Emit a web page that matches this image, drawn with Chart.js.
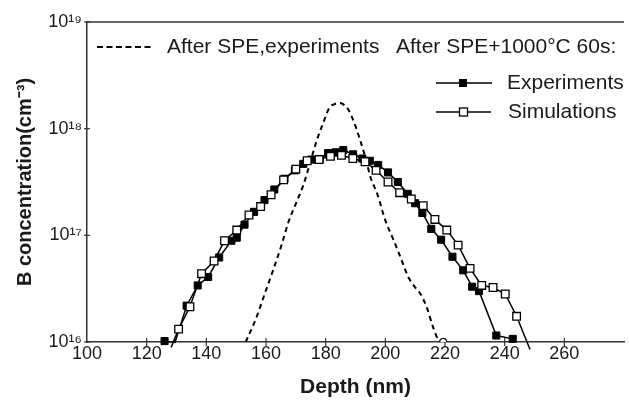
<!DOCTYPE html>
<html>
<head>
<meta charset="utf-8">
<script src="https://cdn.jsdelivr.net/npm/chart.js@4.4.1/dist/chart.umd.min.js"></script>
<style>
  html, body { margin: 0; padding: 0; background: #fff; }
  #wrap { width: 630px; height: 405px; }
</style>
</head>
<body>
<div id="wrap"><canvas id="c" width="630" height="405"></canvas></div>
<script>
// ---- Data ----
const xTickValues = [100, 120, 140, 160, 180, 200, 220, 240, 260];
const yTickValues = [1e16, 1e17, 1e18, 1e19];
const yTickLabels = ['10\u00B9\u2076', '10\u00B9\u2077', '10\u00B9\u2078', '10\u00B9\u2079'];

const xTitle = 'Depth (nm)';
const yTitle = 'B concentration(cm\u207B\u00B3)';

const labelSPE = 'After SPE,experiments';
const legendHeader = 'After SPE+1000\u00B0C 60s:';
const labelExp = 'Experiments';
const labelSim = 'Simulations';

// After SPE, experiments (dashed)
const speDepth = [153.2,156.5,159.8,162.6,165.1,167.6,170.2,172.5,174.7,176.9,179.1,181.3,183,184.8,186.3,187.6,189.5,191.7,193.4,195.2,197.3,200,202.7,205,207.7,209.8,211.6,213.8,216,217.6,219.4];
const speConc  = [1.0e16,1.62e16,2.95e16,4.9e16,7.94e16,1.35e17,2.04e17,2.95e17,4.68e17,7.59e17,1.12e18,1.58e18,1.70e18,1.74e18,1.66e18,1.51e18,1.15e18,7.59e17,5.25e17,3.39e17,2.45e17,1.38e17,9.12e16,6.31e16,4.07e16,3.31e16,2.88e16,2.14e16,1.38e16,1.07e16,1.0e16];

// After SPE + 1000°C 60s, experiments (filled squares)
const expDepth = [126,129.5,133.4,137.1,140.6,144.3,148.4,150.2,152.8,156,159.5,162.8,166.2,169.7,172.5,175.2,178,180.8,183.3,185.9,189.2,192.3,194.8,197.6,200.9,204.2,207.5,210,212.4,215.4,218.7,222.5,226.1,229.1,231.4,237.2,242.7];
const expConc  = [1.02e16,0.99e16,2.19e16,3.39e16,4.07e16,6.2e16,8.9e16,9.5e16,1.26e17,1.66e17,2.14e17,2.69e17,3.39e17,4.07e17,4.68e17,5.13e17,5.2e17,5.9e17,6.0e17,6.3e17,5.75e17,5.25e17,5.0e17,4.57e17,3.89e17,3.16e17,2.45e17,2.0e17,1.62e17,1.15e17,9.1e16,6.3e16,4.7e16,3.3e16,3.0e16,1.15e16,1.07e16];

// After SPE + 1000°C 60s, simulations (open squares)
const simDepth = [128.2,130.7,134.5,138.4,142.6,146.1,150.2,154.3,158.2,161.7,165.9,170,173.8,177.8,181.6,185.3,189.1,193.2,196.9,200.9,204.8,208.7,212.7,216.6,220.6,224.4,228.4,232.3,236.1,240.2,244,248.5];
const simConc  = [8.9e15,1.32e16,2.14e16,4.37e16,5.75e16,8.9e16,1.12e17,1.55e17,1.86e17,2.40e17,3.31e17,4.17e17,5.0e17,5.13e17,5.5e17,5.62e17,5.25e17,4.9e17,4.07e17,3.16e17,2.51e17,2.19e17,1.9e17,1.41e17,1.12e17,8.1e16,4.9e16,3.39e16,3.24e16,2.82e16,1.74e16,8.5e15];

// ---- Build ----
const toXY = (xs, ys) => xs.map((x, i) => ({ x: x, y: ys[i] }));
const INK = '#1a1a1a';
const AXIS = '#333333';
const FONT = "'Liberation Sans', Arial, sans-serif";

const hideBelowAxis = r => ctx => (ctx.raw && ctx.raw.y < 1e16) ? 0 : r;

const decorPlugin = {
  id: 'decor',
  beforeDatasetsDraw(chart) {
    const { ctx, chartArea: a, scales } = chart;
    ctx.save();
    ctx.strokeStyle = AXIS;
    ctx.lineWidth = 1.5;
    ctx.beginPath();
    ctx.moveTo(a.left, a.top);
    ctx.lineTo(a.right, a.top);
    ctx.stroke();
    ctx.lineWidth = 1.2;
    xTickValues.forEach(v => {
      if (v === 100) return;
      const px = scales.x.getPixelForValue(v);
      ctx.beginPath();
      ctx.moveTo(px, a.bottom - 4);
      ctx.lineTo(px, a.bottom + 4);
      ctx.stroke();
    });
    yTickValues.forEach(v => {
      const py = scales.y.getPixelForValue(v);
      ctx.beginPath();
      ctx.moveTo(a.left - 3, py);
      ctx.lineTo(a.left + 3, py);
      ctx.stroke();
    });
    ctx.restore();
  },
  afterDraw(chart) {
    const { ctx } = chart;
    ctx.save();
    ctx.fillStyle = INK;
    ctx.strokeStyle = '#000';
    ctx.font = "21px " + FONT;
    ctx.textBaseline = 'middle';
    ctx.textAlign = 'left';
    ctx.lineWidth = 2;
    ctx.setLineDash([6, 3.5]);
    ctx.beginPath();
    ctx.moveTo(97, 47);
    ctx.lineTo(154, 47);
    ctx.stroke();
    ctx.setLineDash([]);
    ctx.fillText(labelSPE, 167, 47);
    ctx.fillText(legendHeader, 396, 47);
    ctx.lineWidth = 1.6;
    ctx.beginPath();
    ctx.moveTo(436, 83);
    ctx.lineTo(492, 83);
    ctx.stroke();
    ctx.fillStyle = '#000';
    ctx.fillRect(459, 79, 8, 8);
    ctx.fillStyle = INK;
    ctx.fillText(labelExp, 507, 83);
    ctx.beginPath();
    ctx.moveTo(436, 112);
    ctx.lineTo(491, 112);
    ctx.stroke();
    ctx.fillStyle = '#fff';
    ctx.fillRect(459.5, 108, 8, 8);
    ctx.lineWidth = 1.3;
    ctx.strokeRect(459.5, 108, 8, 8);
    ctx.fillStyle = INK;
    ctx.fillText(labelSim, 508, 112);
    ctx.restore();
  }
};

new Chart(document.getElementById('c'), {
  type: 'line',
  data: {
    datasets: [
      {
        label: labelSim,
        data: toXY(simDepth, simConc),
        borderColor: '#000',
        borderWidth: 1.5,
        backgroundColor: '#fff',
        pointStyle: 'rect',
        pointRadius: hideBelowAxis(5.4),
        pointBorderWidth: 1.3,
        pointBorderColor: '#000',
        pointBackgroundColor: '#fff',
        tension: 0,
        clip: false,
        order: 0
      },
      {
        label: labelExp,
        data: toXY(expDepth, expConc),
        borderColor: '#000',
        borderWidth: 1.5,
        backgroundColor: '#000',
        pointStyle: 'rect',
        pointRadius: hideBelowAxis(5),
        pointBorderWidth: 1,
        pointBorderColor: '#000',
        pointBackgroundColor: '#000',
        tension: 0,
        clip: false,
        order: 1
      },
      {
        label: labelSPE,
        data: toXY(speDepth, speConc),
        borderColor: '#000',
        borderWidth: 2,
        borderDash: [5, 4],
        pointStyle: 'circle',
        pointRadius: ctx => ctx.dataIndex === ctx.dataset.data.length - 1 ? 3.5 : 0,
        pointBorderWidth: 1.2,
        pointBorderColor: '#000',
        pointBackgroundColor: '#fff',
        cubicInterpolationMode: 'monotone',
        tension: 0.4,
        order: 2
      }
    ]
  },
  options: {
    responsive: false,
    animation: false,
    events: [],
    layout: { padding: { top: 22, right: 0, left: 0, bottom: 0 } },
    plugins: { legend: { display: false }, tooltip: { enabled: false }, title: { display: false } },
    scales: {
      x: {
        type: 'linear',
        min: 100,
        max: 280,
        afterFit: s => { s.height = 63; },
        afterBuildTicks: s => { s.ticks = xTickValues.map(v => ({ value: v })); },
        ticks: {
          autoSkip: false,
          maxRotation: 0,
          padding: 1,
          color: INK,
          font: { family: FONT, size: 18 },
          callback: v => String(v)
        },
        grid: { display: false, drawTicks: false },
        border: { display: true, color: AXIS, width: 1.5 },
        title: {
          display: true,
          text: xTitle,
          color: INK,
          font: { family: FONT, size: 21, weight: 'bold' },
          padding: { top: 0, bottom: 5 }
        }
      },
      y: {
        type: 'logarithmic',
        min: 1e16,
        max: 1e19,
        afterFit: s => { s.width = 87; },
        afterBuildTicks: s => { s.ticks = yTickValues.map(v => ({ value: v })); },
        ticks: {
          autoSkip: false,
          padding: 5,
          color: INK,
          font: { family: FONT, size: 18 },
          callback: (v) => { const i = yTickValues.indexOf(v); return i >= 0 ? yTickLabels[i] : ''; }
        },
        grid: { display: false, drawTicks: false },
        border: { display: true, color: AXIS, width: 1.5 },
        title: {
          display: true,
          text: yTitle,
          color: INK,
          font: { family: FONT, size: 20, weight: 'bold' },
          padding: { top: 13, bottom: 0 }
        }
      }
    }
  },
  plugins: [decorPlugin]
});
</script>
</body>
</html>
